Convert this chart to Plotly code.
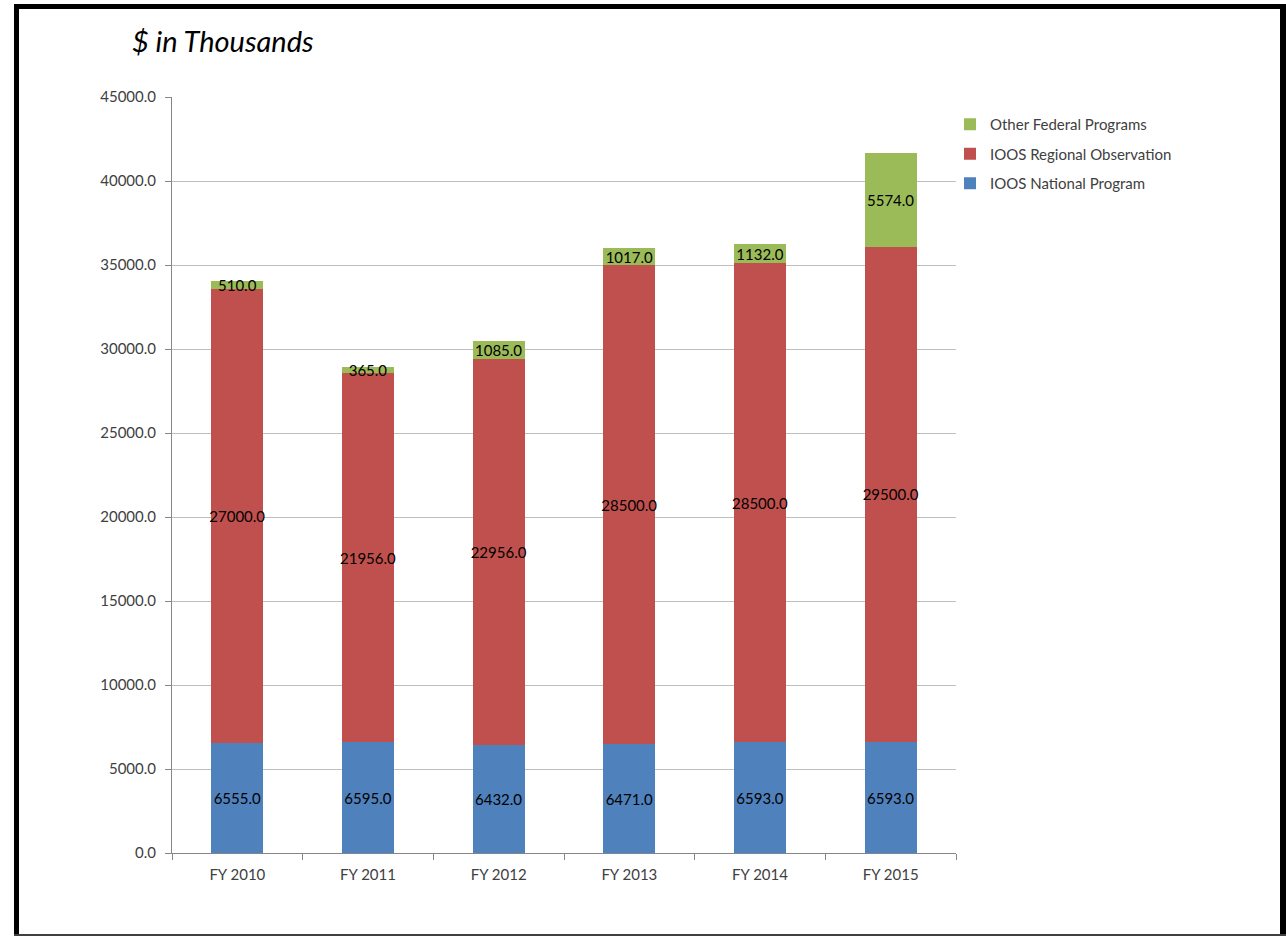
import plotly.graph_objects as go

categories = ["FY 2010", "FY 2011", "FY 2012", "FY 2013", "FY 2014", "FY 2015"]
national = [6555, 6595, 6432, 6471, 6593, 6593]
regional = [27000, 21956, 22956, 28500, 28500, 29500]
other = [510, 365, 1085, 1017, 1132, 5574]
y_ticks = [0, 5000, 10000, 15000, 20000, 25000, 30000, 35000, 40000, 45000]

FONT = "Lato, Carlito, Calibri, 'Open Sans', sans-serif"

series = [
    ("IOOS National Program", national, "#4F81BD", 3),
    ("IOOS Regional Observation", regional, "#C0504D", 2),
    ("Other Federal Programs", other, "#9BBB59", 1),
]

fig = go.Figure()
for name, vals, color, rank in series:
    fig.add_trace(go.Bar(
        x=categories, y=vals, name=name, legendgroup=name, legendrank=rank,
        marker=dict(color=color, line=dict(width=0)),
        texttemplate="%{y:.1f}", textposition="inside",
        insidetextanchor="middle", textangle=0, constraintext="none",
        textfont=dict(family=FONT, size=15, color="#000000"),
        hoverinfo="x+y+name",
    ))

W, H = 1286, 936
L, R, T, B = 172, 956, 97, 853
pw, ph = R - L, B - T

def px(x):
    return (x - L) / pw

def py(y):
    return (B - y) / ph

fig.update_layout(
    width=W, height=H,
    margin=dict(l=L, r=W - R, t=T, b=H - B, pad=0),
    barmode="stack", bargap=0.6,
    paper_bgcolor="white", plot_bgcolor="white",
    font=dict(family=FONT, size=15, color="#404040"),
    showlegend=True,
    legend=dict(
        traceorder="grouped", x=px(950), y=py(108), xanchor="left", yanchor="top",
        font=dict(family=FONT, size=15, color="#404040"),
        itemwidth=30, tracegroupgap=7, bgcolor="rgba(0,0,0,0)",
    ),
    xaxis=dict(
        type="category", showline=True, linecolor="#868686", linewidth=1,
        ticks="outside", tickson="boundaries", ticklen=6, tickcolor="#868686",
        ticklabelstandoff=8,
        tickfont=dict(family=FONT, size=15, color="#404040"), showgrid=False,
        range=[-0.5, 5.5],
    ),
    yaxis=dict(
        range=[0, 45000], tickvals=y_ticks, tickformat=".1f",
        showline=True, linecolor="#868686", linewidth=1,
        ticks="outside", ticklen=6, tickcolor="#868686",
        ticklabelstandoff=6,
        showgrid=True, gridcolor="#BFBFBF", gridwidth=1, zeroline=False,
        tickfont=dict(family=FONT, size=15, color="#404040"),
    ),
    annotations=[dict(
        text="<i>$ in Thousands</i>", xref="paper", yref="paper",
        x=px(130), y=py(40), xanchor="left", yanchor="middle", showarrow=False,
        font=dict(family=FONT, size=29, color="#000000"),
    )],
    shapes=[
        # outer frame
        dict(type="rect", xref="paper", yref="paper", x0=px(14), x1=px(19), y0=py(936), y1=py(4),
             fillcolor="#000000", line=dict(width=0), layer="above"),
        dict(type="rect", xref="paper", yref="paper", x0=px(14), x1=px(1286), y0=py(9), y1=py(4),
             fillcolor="#000000", line=dict(width=0), layer="above"),
        dict(type="rect", xref="paper", yref="paper", x0=px(1280), x1=px(1286), y0=py(936), y1=py(4),
             fillcolor="#000000", line=dict(width=0), layer="above"),
        dict(type="rect", xref="paper", yref="paper", x0=px(14), x1=px(1286), y0=py(936), y1=py(934),
             fillcolor="#404040", line=dict(width=0), layer="above"),
    ],
)

fig.write_html("out.html")
